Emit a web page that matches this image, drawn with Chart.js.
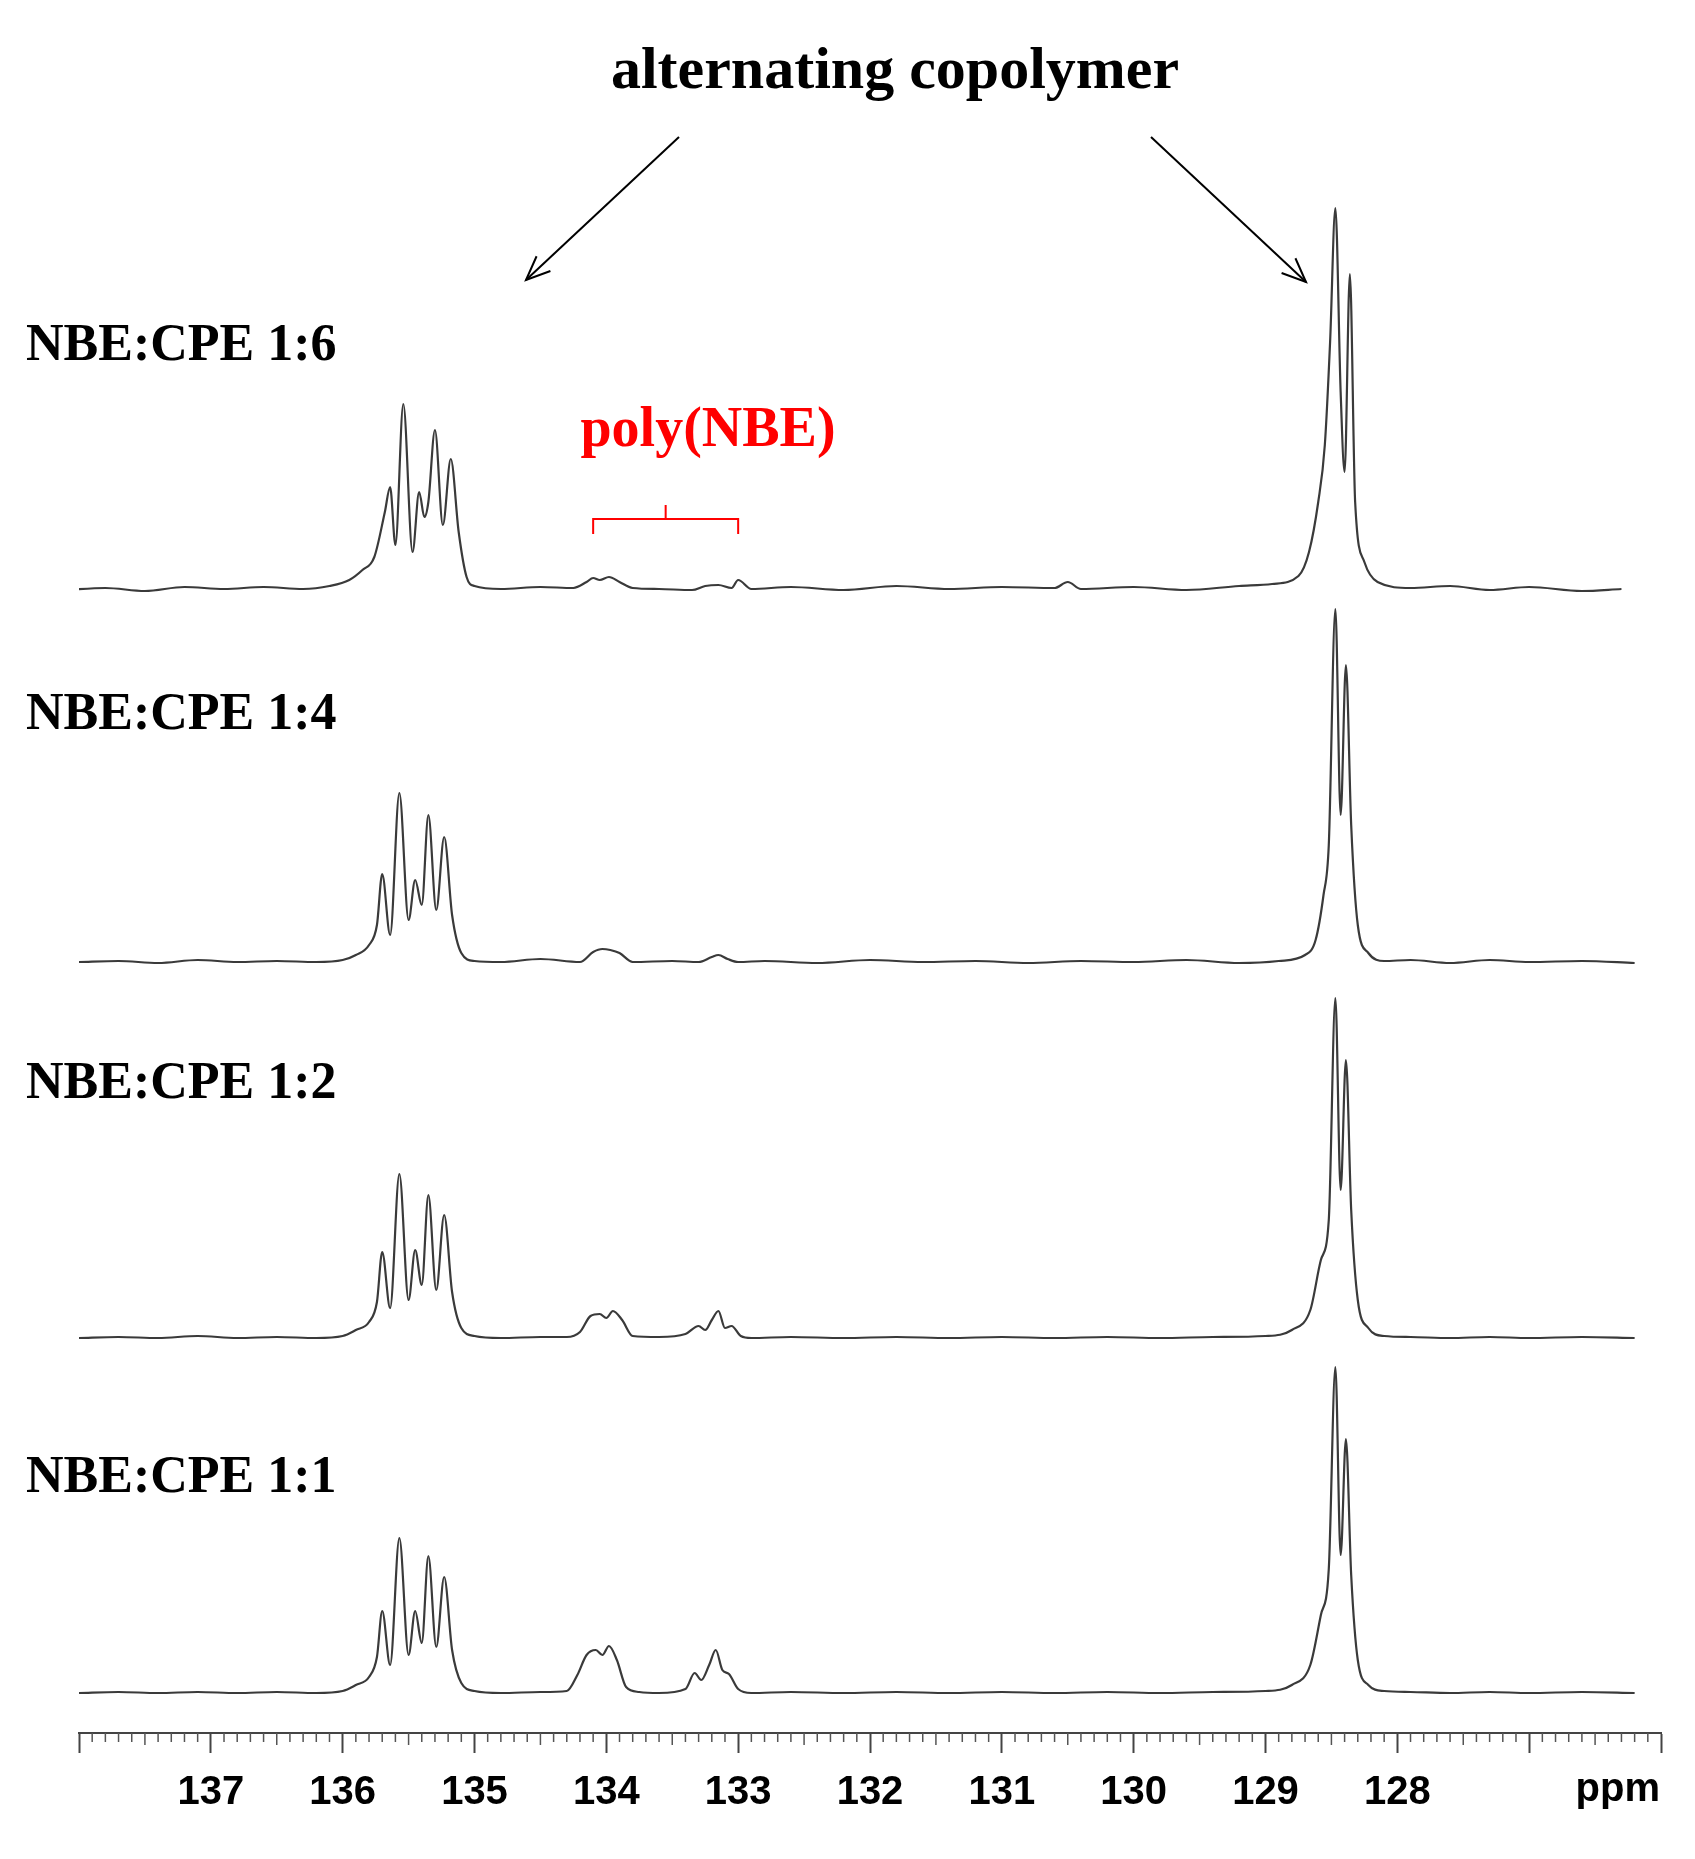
<!DOCTYPE html>
<html lang="en">
<head>
<meta charset="UTF-8">
<title>NBE:CPE 13C NMR</title>
<style>
  html, body { margin: 0; padding: 0; background: #fff; }
  #wrap { width: 1695px; height: 1859px; position: relative; }
</style>
</head>
<body>
<div id="wrap"><canvas id="nmr"></canvas></div>
<script src="https://cdn.jsdelivr.net/npm/chart.js@4.4.1/dist/chart.umd.min.js"></script>
<script>
// spectrum labels, top to bottom
var labels = ['NBE:CPE 1:6', 'NBE:CPE 1:4', 'NBE:CPE 1:2', 'NBE:CPE 1:1'];
var tickLabels = [137, 136, 135, 134, 133, 132, 131, 130, 129, 128];

// chemical shifts (ppm) and intensities
var ppm16 = [138.1,137.8,137.5,137.2,136.9,136.6,136.3,136.1,135.95,135.85,135.76,135.68,135.64,135.6,135.54,135.47,135.42,135.38,135.35,135.3,135.24,135.18,135.12,135.06,135.0,134.8,134.5,134.25,134.15,134.1,134.05,133.98,133.9,133.8,133.6,133.35,133.25,133.15,133.05,133.0,132.9,132.6,132.2,131.8,131.4,131.0,130.6,130.5,130.4,130.0,129.6,129.2,128.95,128.75,128.67,128.6,128.55,128.51,128.47,128.43,128.4,128.36,128.32,128.25,128.15,127.9,127.6,127.3,127.0,126.6,126.3];
var int16 = [2,4,1,5,3,5,3,6,12,22,35,80,105,47,188,40,100,75,90,162,67,133,60,15,6,3,5,4,10,14,12,15,10,4,3,2,6,7,4,12,3,5,2,6,3,5,4,10,3,5,2,6,8,16,40,90,147,250,384,200,120,318,90,30,10,4,6,2,5,1,3];

var ppm14 = [138.0,137.7,137.4,137.1,136.8,136.5,136.2,136.0,135.9,135.8,135.74,135.7,135.64,135.57,135.5,135.45,135.4,135.35,135.29,135.23,135.17,135.1,135.0,134.8,134.5,134.2,134.1,134.03,133.97,133.9,133.8,133.5,133.3,133.2,133.15,133.08,133.0,132.8,132.4,132.0,131.6,131.2,130.8,130.4,130.0,129.6,129.2,128.9,128.7,128.62,128.56,128.52,128.47,128.43,128.39,128.35,128.3,128.22,128.1,127.9,127.6,127.3,127.0,126.6,126.2];
var int14 = [3,4,2,5,3,4,3,5,10,20,40,91,30,172,45,85,60,150,55,128,50,12,4,3,6,3,13,16,15,12,3,4,3,8,10,6,3,4,2,5,3,4,2,4,3,5,2,4,10,25,70,120,356,150,300,140,40,12,4,5,2,5,3,4,2];

var ppm12 = [138.0,137.7,137.4,137.1,136.8,136.5,136.2,136.0,135.9,135.8,135.74,135.7,135.64,135.57,135.5,135.45,135.4,135.35,135.29,135.23,135.17,135.1,135.0,134.8,134.5,134.3,134.2,134.12,134.05,134.0,133.95,133.88,133.8,133.6,133.4,133.3,133.25,133.2,133.15,133.1,133.05,132.98,132.9,132.6,132.2,131.8,131.4,131.0,130.6,130.2,129.8,129.4,129.0,128.8,128.66,128.58,128.52,128.47,128.43,128.39,128.35,128.3,128.22,128.1,127.9,127.6,127.3,127.0,126.6,126.2];
var int12 = [2,3,2,4,2,3,2,4,10,18,38,88,32,166,40,90,55,145,50,125,48,12,4,2,3,3,8,24,26,22,29,20,4,3,6,14,10,20,29,12,14,4,2,3,2,3,2,3,2,3,2,3,4,10,30,80,120,342,150,280,130,40,12,4,3,2,3,2,3,2,2];

var ppm11 = [138.0,137.7,137.4,137.1,136.8,136.5,136.2,136.0,135.9,135.8,135.74,135.7,135.64,135.57,135.5,135.45,135.4,135.35,135.29,135.23,135.17,135.1,135.0,134.8,134.5,134.3,134.22,134.15,134.08,134.03,133.98,133.92,133.85,133.75,133.6,133.4,133.33,133.28,133.22,133.17,133.12,133.07,133.0,132.9,132.6,132.2,131.8,131.4,131.0,130.6,130.2,129.8,129.4,129.0,128.8,128.66,128.58,128.52,128.47,128.43,128.39,128.35,128.3,128.22,128.1,127.9,127.6,127.3,127.0,126.6,126.2];
var int11 = [2,3,2,3,2,3,2,4,10,18,38,84,30,157,40,84,52,139,48,118,45,12,4,2,3,4,20,40,45,40,49,35,8,3,2,6,22,15,30,45,25,21,6,2,3,2,3,2,3,2,3,2,3,4,10,30,80,126,328,140,256,120,35,10,4,3,2,3,2,3,2];

// vertical baseline of each trace above the axis, in scale units
var offsets = [1141, 768, 393, 38];

var spectra = [[ppm16, int16], [ppm14, int14], [ppm12, int12], [ppm11, int11]];

var datasets = spectra.map(function(s, k) {
    return {
        label: labels[k],
        data: s[0].map(function(x, i) { return { x: x, y: offsets[k] + s[1][i] }; }),
        borderColor: '#3a3a3a',
        borderWidth: 2.2,
        pointRadius: 0,
        fill: false,
        cubicInterpolationMode: 'monotone'
    };
});

var serif = '"Liberation Serif", "DejaVu Serif", serif';

var decor = {
    id: 'decor',
    afterDraw: function(chart) {
        var ctx = chart.ctx;
        var xs = chart.scales.x;
        var top = xs.top;
        ctx.save();
        // minor ticks every 0.1 ppm
        ctx.strokeStyle = '#555';
        ctx.lineWidth = 1.5;
        for (var v = 1260; v <= 1380; v++) {
            if (v % 10 === 0) continue;
            var px = xs.getPixelForValue(v / 10);
            ctx.beginPath();
            ctx.moveTo(px, top);
            ctx.lineTo(px, top + (v % 5 === 0 ? 12 : 9));
            ctx.stroke();
        }
        ctx.fillStyle = '#000';
        ctx.font = 'bold 40px "Liberation Sans", Arial, sans-serif';
        ctx.textAlign = 'right';
        ctx.textBaseline = 'middle';
        ctx.fillText('ppm', 1660, 1790);

        // sample labels
        ctx.textAlign = 'left';
        ctx.font = 'bold 52px ' + serif;
        var ly = [347, 716, 1085, 1479];
        labels.forEach(function(t, i) { ctx.fillText(t, 26, ly[i]); });

        ctx.textAlign = 'center';
        ctx.font = 'bold 60px ' + serif;
        ctx.fillText('alternating copolymer', 895, 72);

        // arrows
        function arrow(x1, y1, x2, y2) {
            ctx.strokeStyle = '#000';
            ctx.lineWidth = 2;
            ctx.beginPath(); ctx.moveTo(x1, y1); ctx.lineTo(x2, y2); ctx.stroke();
            var a = Math.atan2(y2 - y1, x2 - x1), L = 26;
            ctx.beginPath();
            ctx.moveTo(x2 - L * Math.cos(a - 0.4), y2 - L * Math.sin(a - 0.4));
            ctx.lineTo(x2, y2);
            ctx.lineTo(x2 - L * Math.cos(a + 0.4), y2 - L * Math.sin(a + 0.4));
            ctx.stroke();
        }
        arrow(679, 137, 526, 280);
        arrow(1151, 137, 1306, 282);

        // poly(NBE) bracket
        ctx.fillStyle = '#ff0000';
        ctx.strokeStyle = '#ff0000';
        ctx.font = 'bold 56px ' + serif;
        ctx.fillText('poly(NBE)', 708, 432);
        var bx1 = xs.getPixelForValue(134.1), bx2 = xs.getPixelForValue(133.0);
        ctx.lineWidth = 2;
        ctx.beginPath();
        ctx.moveTo(bx1, 534); ctx.lineTo(bx1, 519); ctx.lineTo(bx2, 519); ctx.lineTo(bx2, 534);
        ctx.moveTo((bx1 + bx2) / 2, 519); ctx.lineTo((bx1 + bx2) / 2, 505);
        ctx.stroke();
        ctx.restore();
    }
};

new Chart(document.getElementById('nmr'), {
    type: 'line',
    data: { datasets: datasets },
    options: {
        responsive: true,
        maintainAspectRatio: false,
        animation: false,
        layout: { padding: { left: 79, right: 34, top: 0, bottom: 0 } },
        plugins: { legend: { display: false }, tooltip: { enabled: false } },
        scales: {
            x: {
                type: 'linear',
                reverse: true,
                min: 126,
                max: 138,
                afterFit: function(s) { s.height = 126; },
                afterBuildTicks: function(s) {
                    var t = [];
                    for (var v = 126; v <= 138; v++) t.push({ value: v });
                    s.ticks = t;
                },
                border: { display: true, color: '#444', width: 2 },
                grid: { drawOnChartArea: false, tickLength: 20, tickWidth: 2, tickColor: '#444' },
                ticks: {
                    autoSkip: false,
                    maxRotation: 0,
                    padding: 16,
                    color: '#000',
                    font: { family: '"Liberation Sans", Arial, sans-serif', weight: 'bold', size: 40 },
                    callback: function(v) { return tickLabels.indexOf(v) >= 0 ? String(v) : ''; }
                }
            },
            y: { display: false, min: 0, max: 1733 }
        }
    },
    plugins: [decor]
});
</script>
</body>
</html>
